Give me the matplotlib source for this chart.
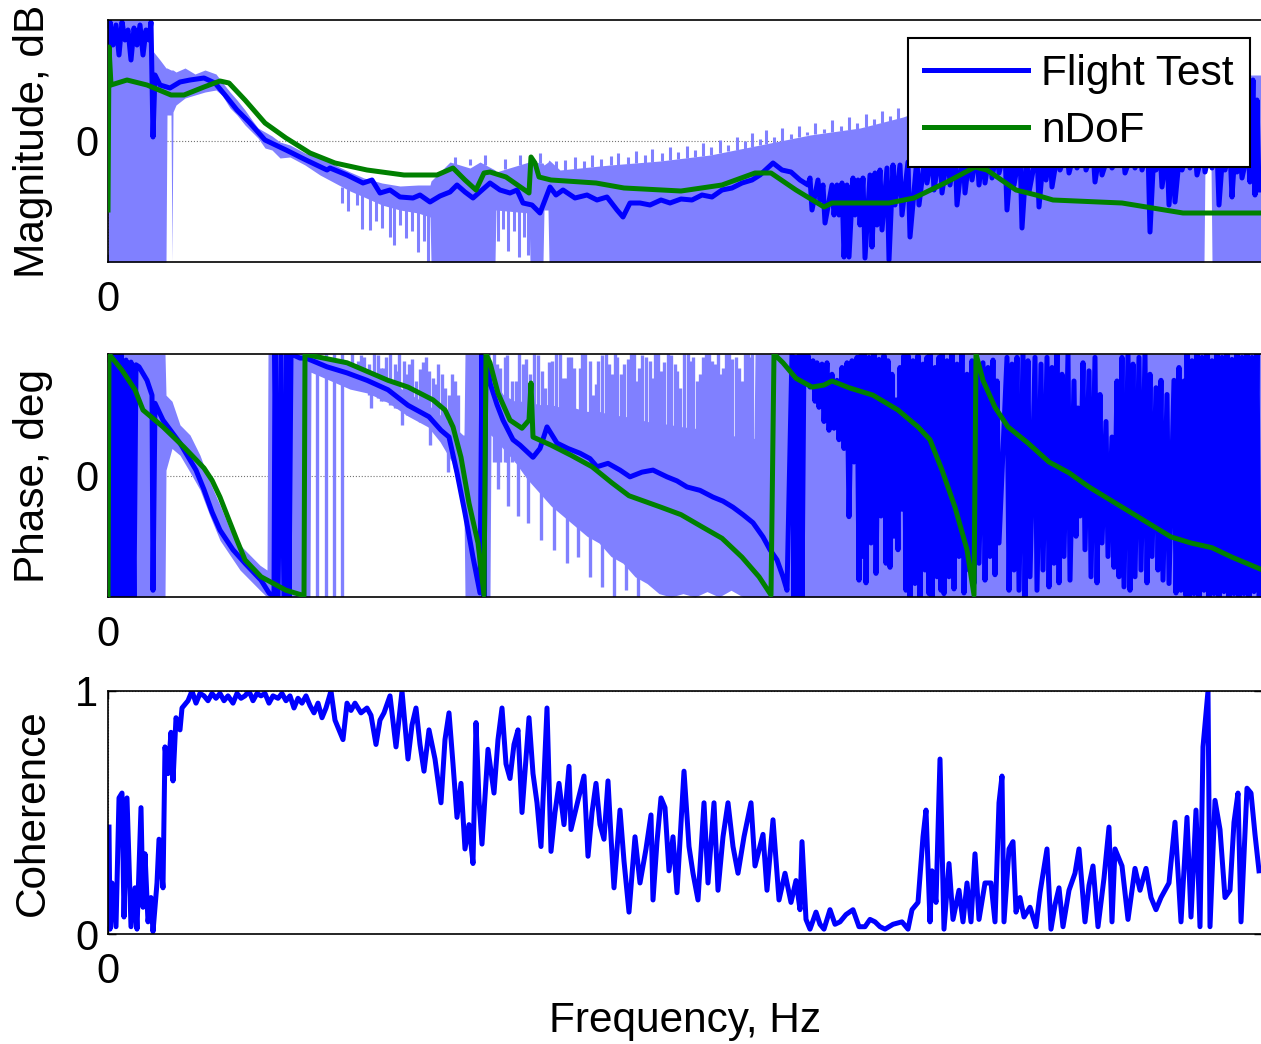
import numpy as np
import matplotlib
matplotlib.use("Agg")
import matplotlib.pyplot as plt

plt.rcParams['font.family'] = ['Liberation Sans', 'DejaVu Sans']
plt.rcParams['font.size'] = 30

LIGHT = '#8080FF'
BLUE = '#0000FF'
GREEN = '#008000'

# ---------------- magnitude, dB ----------------
# raw flight test spread: base band ...
mag_band_f = [0.0, 4.3, 4.4, 5.2, 5.8, 5.9, 6.3, 6.4, 6.5, 6.8, 7.7, 8.7, 9.7, 10.8, 11.4, 12.2,
              12.9, 13.7, 14.4, 15.0, 15.7, 16.4, 17.2, 18.2, 19.7, 21.2, 22.7, 24.2, 25.6, 27.4,
              29.2, 31.0, 32.2, 32.3, 34.2, 35.2, 36.2, 37.2, 38.7, 38.8, 42.1, 42.2, 43.5, 43.6,
              44.0, 44.1, 45.2, 50.2, 55.2, 60.2, 65.2, 70.2, 75.2, 79.5, 84.2, 94.2, 104.2,
              109.6, 109.7, 110.3, 110.4, 115.3]
mag_band_hi = [60.5, 60.5, 45.5, 40.5, 36.5, 36.5, 35.5, 35.5, 35.5, 34.5, 36.5, 33.5, 35.5, 33.5,
               29.5, 24.5, 20.5, 15.5, 10.5, 6.5, 4.5, 2.5, -0.5, -2, -6, -8.5, -12, -15.5, -18.5,
               -21, -22.5, -22, -22, -20, -10.5, -12, -13.5, -10.5, -14.5, -15.5, -10.5, -10.5,
               -11, -12, -10.5, -9.5, -14.5, -12, -10, -7, -2, 3, 6.5, 12, 20.5, 26.5, 31.5, 33,
               33, 33, 33, 33]
mag_band_lo = [-60.5, -60.5, -60.5, -60.5, -60.5, 13, 13, -60.5, 14.5, 18, 21.5, 23, 24.5, 25.5,
               23, 16.5, 13, 8, 4.5, 1.5, -3.5, -4.5, -8.5, -8, -12, -17, -21, -25, -28, -32,
               -34.5, -36, -38, -60.5, -60.5, -60.5, -60.5, -60.5, -60.5, -34.5, -36, -60.5,
               -60.5, -34.5, -34.5, -60.5, -60.5, -60.5, -60.5, -60.5, -60.5, -60.5, -60.5, -60.5,
               -60.5, -60.5, -60.5, -60.5, -11, -11, -60.5, -60.5]
# ... and its single spikes
mag_spk_f = [23.4, 24.0, 24.9, 25.4, 26.2, 26.8, 27.4, 28.2, 28.6, 29.2, 29.8, 30.4, 31.0, 31.6,
             32.0, 39.0, 39.5, 40.0, 40.6, 41.1, 41.6, 42.0, 34.7, 36.2, 37.7, 39.7, 41.2, 43.2,
             44.8, 45.7, 46.7, 47.6, 48.4, 49.3, 50.3, 51.0, 52.0, 52.8, 53.7, 54.4, 55.4, 56.2,
             57.0, 57.9, 58.7, 59.5, 60.3, 61.2, 62.0, 62.9, 63.7, 64.4, 65.2, 65.8, 66.6, 67.4,
             68.3, 69.1, 69.9, 70.7, 71.6, 72.4, 73.3, 74.1, 74.9, 75.8, 76.6, 77.4, 78.2, 79.0]
mag_spk_lo = [-31, -35, -32, -44, -44.5, -40, -43.5, -48, -52, -42, -48.5, -45, -55.5, -50, -60.5,
              -50, -44, -55, -45, -58, -48, -57, -12, -12, -12, -14, -12, -11, -14, -15, -14,
              -14, -13, -13, -12, -12, -11.5, -11, -11, -10.5, -10, -9.5, -9, -8.5, -8, -7.5, -7,
              -6, -5, -4.5, -4, -3, -2, -1.5, -1, 0, 1, 2, 3, 3.5, 4, 4.5, 5, 5.5, 6, 7, 8, 9,
              10, 11]
mag_spk_hi = [-23, -24, -24, -27, -27, -30, -30, -32, -32, -33, -33, -34, -34, -34, -35, -34, -34,
              -34, -34, -34, -34, -34, -8, -9, -7, -9, -7, -6, -10, -9.5, -8, -10, -7, -9, -7.5,
              -6, -8, -5, -7, -4, -6, -3, -5.5, -2.5, -4.5, -1, -3, 0.5, -2, 2, 0, 4, 1, 5.5, 2,
              6.5, 3.5, 7.5, 4.5, 9, 6, 10.5, 7.5, 12, 9, 13.5, 11, 15, 12.5, 16.5]

# smoothed flight test, low frequency part
mag_ft_f = [0.0, 0.2, 0.5, 0.8, 1.1, 1.4, 1.7, 2.0, 2.3, 2.6, 2.9, 3.2, 3.5, 3.8, 4.1, 4.3, 4.5,
            4.7, 5.2, 6.2, 7.2, 8.2, 9.6, 10.7, 11.7, 12.9, 14.1, 15.7, 17.8, 19.8, 21.9, 22.2,
            23.9, 25.5, 26.4, 27.2, 28.2, 29.2, 30.5, 31.2, 32.2, 33.2, 34.2, 34.9, 35.7, 36.5,
            37.4, 38.2, 39.2, 40.2, 40.9, 41.5, 42.4, 43.2, 44.2, 44.8, 45.5, 46.7, 47.9, 48.9,
            49.9, 50.9, 51.5, 52.2, 53.2, 54.2, 55.3, 56.2, 57.3, 58.4, 59.4, 60.4, 61.4, 62.4,
            63.4, 64.4, 65.2, 66.5, 67.4, 68.3, 69.2, 70.0]
mag_ft_db = [40.5, 59.5, 48, 58, 43, 59.5, 50.5, 55.5, 40.5, 56.5, 48, 58, 43, 55.5, 50.5, 59.5,
             2, 33, 28, 26.5, 29.5, 30.5, 31.5, 29, 23, 15.5, 9.5, 0.5, -4.5, -9.5, -14.5, -13.5,
             -17, -21, -19.5, -26, -24.5, -28, -28.5, -27, -30.5, -27.5, -25.5, -22, -25.5,
             -28.5, -24.5, -21, -24.5, -26, -24.5, -31, -32, -36, -23, -27, -24.5, -28.5, -27,
             -29.5, -28, -34.5, -38, -31, -31, -32, -29.5, -31, -29, -29.5, -27, -28, -24.5,
             -23.5, -21, -19.5, -17, -11, -14.5, -15.5, -19.5, -22]
# smoothed flight test, noisy high frequency part (per column: top / bottom)
mag_col_f = [70.2, 71.0, 71.5, 72.4, 72.9, 73.4, 73.9, 74.5, 75.0, 75.5, 76.2, 76.7, 77.2, 77.9,
             78.5, 79.2, 80.0, 80.9, 81.7, 82.4, 83.2, 84.0, 84.7, 85.5, 86.2, 86.9, 87.5, 88.2,
             88.9, 89.7, 90.4, 91.2, 91.9, 92.9, 93.6, 94.2, 95.0, 95.9, 96.7, 97.6, 98.5, 99.2,
             100.2, 101.5, 102.5, 103.2, 104.0, 104.6, 105.2, 105.9, 106.5, 107.2, 108.0, 108.7,
             109.5, 110.2, 110.9, 111.5, 112.2, 112.7, 113.2, 114.0, 114.5, 114.9]
mag_col_top = [-18.5, -19.5, -22, -22, -22, -21, -22, -18.5, -19.5, -18.5, -17, -16, -14.5,
               -13.5, -12, -12, -10.5, -8.5, -7, -5.5, -4.5, -4.5, -4.5, -4.5, -4.5, -4.5, -4.5,
               -4.5, -4.5, -4.5, -4.5, -4.5, -4.5, -4.5, -4.5, -4.5, -4.5, -4.5, -4.5, -4.5,
               -4.5, -4.5, -4.5, -4.5, -4.5, -4.5, -4.5, -4.5, -4.5, -4.5, -4.5, -4.5, -4.5,
               -4.5, -4.5, -4.5, -4.5, -4.5, -4.5, -4.5, -4.5, -4.5, 30.5, 20.5]
mag_col_bot = [-34.5, -29.5, -41, -37, -37, -58, -58, -37, -42, -58.5, -53, -42, -44.5, -59.5,
               -32, -37, -48, -32, -21, -24.5, -26, -22, -32, -26, -19.5, -22, -21, -18.5, -16,
               -34.5, -22, -43.5, -25.5, -33, -19.5, -23, -14.5, -16, -13.5, -14.5, -20.5, -17,
               -13.5, -16, -13.5, -14.5, -45.5, -14.5, -23, -32, -30.5, -14.5, -13.5, -17, -15.5,
               -13.5, -32, -14.5, -28, -15.5, -18.5, -20.5, -27, -24.5]

# nDoF model
mag_nd_f = [0, 0.1, 0.3, 1.9, 3.9, 6.3, 7.6, 9.6, 11.2, 12.1, 13.7, 15.7, 17.8, 20.2, 22.7, 25.9,
            29.6, 32.9, 34.5, 35.7, 36.8, 37.6, 38.2, 39.8, 42.1, 42.3, 42.7, 43.1, 44.3, 48.8,
            51.6, 57.3, 61.4, 64.7, 66.3, 68.8, 71.6, 72.4, 78.1, 80.6, 83.9, 86.7, 87.9, 90.8,
            92.8, 94.5, 101.4, 107.5, 115.3]
mag_nd_db = [-34.5, 47, 28, 30.5, 28, 23, 23, 27, 30, 29, 20.5, 9, 1.5, -6, -11, -14.5, -17, -17,
             -13.5, -19.5, -24.5, -16, -15.5, -18, -26, -8, -11, -18, -19.5, -21, -23.5, -25,
             -22, -16, -16, -24.5, -33, -31, -31, -28.5, -20.5, -13, -14.5, -24.5, -27, -29.5,
             -31, -36, -36]

# ---------------- phase, deg ----------------
ph_band_f = [0.0, 5.7, 5.8, 6.4, 7.2, 8.2, 9.2, 10.2, 11.2, 12.2, 13.2, 14.2, 15.2, 15.9, 16.0,
             20.2, 20.3, 24.2, 26.0, 28.0, 30.0, 32.0, 33.2, 34.4, 35.5, 35.6, 35.7, 38.2, 38.3,
             39.5, 40.7, 41.9, 43.1, 44.3, 45.5, 46.7, 47.9, 49.1, 50.3, 51.5, 52.7, 53.9, 55.1,
             56.3, 57.5, 58.7, 59.9, 61.1, 62.3, 63.5, 64.6, 64.7, 115.3]
ph_band_hi = [180, 180, 119, 110, 75, 60, 30, -10, -44, -80, -103, -118, -133, -140, 180,
              180, 180, 165, 155, 142, 122, 105, 90, 75, 60, 60, 180, 180, 150,
              120, 110, 110, 105, 105, 100, 100, 95, 95, 90, 88, 85, 80, 78,
              75, 72, 70, 65, 62, 60, 55, 55, 180, 180]
ph_band_lo = [-180, -180, 8, 40, 30, 5, -21, -60, -96, -118, -140, -155, -170, -180, -180,
              -180, 153, 128, 122, 108, 88, 72, 50, 20, -50, -50, -180, -180, 60,
              40, 20, -5, -25, -45, -60, -75, -90, -100, -120, -130, -150, -160, -175,
              -180, -175, -180, -172, -180, -170, -180, -180, -180, -180]
ph_spk_f = [20.9, 21.8, 22.6, 23.4,
            24.4, 25.0, 25.3, 26.1, 26.6, 27.3, 27.8, 28.7, 29.1, 29.9, 30.4, 31.2, 31.8, 32.5,
            33.0, 33.7, 34.4, 35.0, 26.3, 29.4, 32.2, 34.0,
            24.7, 25.6, 26.4, 27.0, 27.5, 28.2, 28.9, 29.6, 30.1, 30.8, 31.5, 32.1, 32.8, 33.4,
            34.1, 34.7,
            38.6, 39.2, 39.7, 40.4, 41.1, 41.5, 42.2, 43.0, 43.7, 44.4, 45.2, 45.8, 46.3, 47.2,
            47.7, 48.5, 49.0, 49.8, 50.4, 50.9, 51.6, 52.3, 52.8, 53.4, 54.2, 54.7, 55.3, 56.0,
            56.7, 57.2, 58.0, 58.5, 59.2, 59.8, 60.4, 61.0, 61.5, 62.1, 62.8, 63.4, 64.0, 64.4,
            38.9, 39.9, 40.8, 41.8, 42.6, 43.4, 44.1, 44.8, 45.5, 46.0, 46.6, 47.4, 48.2, 48.8,
            49.4, 50.1, 50.7, 51.3, 52.0, 52.6, 53.1, 53.8, 54.5, 55.0, 55.6, 56.3, 56.9, 57.6,
            58.3, 58.9, 59.5, 60.1, 60.7, 61.3, 61.8, 62.4, 63.1, 63.7, 64.2,
            39.0, 40.0, 41.0, 42.0, 43.3, 44.6, 45.9, 47.0, 48.2, 49.4, 50.6, 51.8, 53.0]
ph_spk_lo = [-180, -180, -180, -180,
             130, 130, 130, 120, 120, 110, 110, 100, 100, 90, 90, 80, 80, 70,
             70, 60, 50, 40, 100, 75, 45, 5,
             130, 125, 120, 115, 110, 105, 100, 95, 90, 85, 80, 75, 70, 65,
             50, 40,
             20, 20, 20, 20, 20, 20, 20, 20, 20, 20, 20, 20, 20, 20,
             20, 20, 20, 20, 20, 20, 20, 20, 20, 20, 20, 20, 20, 20,
             20, 20, 20, 20, 20, 20, 20, 20, 20, 20, 20, 20, 20, 20,
             20, 20, 20, 20, 20, 20, 20, 20, 20, 20, 20, 20, 20, 20,
             20, 20, 20, 20, 20, 20, 20, 20, 20, 20, 20, 20, 20, 20,
             20, 20, 20, 20, 20, 20, 20, 20, 20, 20, 20,
             -20, -45, -60, -70, -95, -110, -130, -120, -150, -165, -180, -170, -180]
ph_spk_hi = [180, 180, 180, 180,
             180, 170, 178, 165, 180, 160, 175, 165, 180, 150, 172, 158, 176, 145,
             165, 130, 150, 120, 125, 100, 75, 40,
             165, 175, 150, 178, 160, 180, 155, 170, 165, 140, 168, 155, 135, 150,
             120, 140,
             180, 160, 175, 140, 180, 165, 150, 178, 130, 170, 180, 145, 175, 160,
             180, 120, 170, 180, 150, 175, 165, 180, 140, 178, 170, 180, 155, 180,
             165, 130, 180, 175, 150, 180, 170, 180, 160, 180, 175, 140, 180, 180,
             165, 178, 140, 172, 180, 155, 168, 180, 145, 175, 160, 180, 170, 135,
             178, 165, 180, 150, 172, 180, 160, 175, 145, 180, 168, 178, 155, 180,
             170, 140, 176, 180, 165, 150, 180, 172, 160, 180, 175,
             50, 35, 20, 0, -25, -45, -60, -75, -90, -100, -120, -130, -150]

ph_ft_f = [0.0, 0.1, 0.3, 0.5, 0.7, 0.9, 1.1, 1.3, 1.6, 1.8, 2.1, 2.3, 2.6, 2.8, 3.1, 3.9, 4.4, 4.5,
           4.7, 5.5, 7.2, 8.8, 9.6, 10.4, 11.2, 12.5, 13.7, 15.3, 16.1, 16.6, 16.7, 17.0, 17.3,
           17.6, 17.9, 18.1, 18.3, 19.2, 19.8, 21.9, 23.9, 25.9, 28.0, 30.0, 32.1, 33.3, 34.1,
           34.9, 35.7, 36.5, 37.2, 37.4, 37.6, 37.8, 38.2, 38.9, 39.5, 40.5, 41.2, 42.5, 43.2,
           43.9, 44.4, 44.9, 46.0, 47.2, 48.2, 48.9, 50.0, 51.2, 52.2, 53.4, 54.5, 55.9, 56.9,
           57.9, 59.2, 60.5, 61.5, 62.5, 63.5, 64.5, 65.5, 66.2, 66.9, 67.5, 67.9]
ph_ft_deg = [-180, 180, -180, 180, -180, 180, -180, 180, -180, 171, -180, 168, -180, 164, 161, 141,
             119, -170, 107, 82, 48, 8, -21, -54, -81, -110, -130, -155, -174, -180, 180, -180,
             180, -180, 180, -180, 180, 174, 174, 161, 152, 141, 127, 104, 87, 67, 57, 4, -56,
             -121, -174, 180, -180, 180, 137, 105, 82, 53, 45, 27, 40, 72, 60, 48, 40, 33, 25,
             13, 18, 8, -2, 5, 8, -2, -8, -17, -22, -32, -38, -47, -58, -70, -91, -110, -125,
             -150, -170]
ph_col_f = [68.4, 68.8, 69.2, 69.6, 70.0, 70.5, 70.9, 71.4, 71.9, 72.4, 72.9, 73.4, 73.9, 74.4,
            74.9, 75.3, 75.6, 76.1, 76.6, 77.1, 77.6, 78.0, 78.4, 78.8, 79.2, 79.6, 80.0, 80.5,
            81.0, 81.5, 81.9, 82.2, 82.7, 83.1, 83.4, 83.9, 84.4, 84.9, 85.4, 85.9, 86.4, 86.9,
            87.5, 88.0, 88.5, 88.9, 89.9, 90.4, 90.9, 91.5, 92.0, 92.7, 93.3, 93.9, 94.4, 94.9,
            95.4, 96.0, 96.6, 97.0, 97.5, 98.1, 98.7, 99.2, 99.8, 100.4, 100.9, 101.4, 102.0,
            102.5, 103.1, 103.7, 104.2, 104.8, 105.3, 105.9, 106.6, 107.1, 107.6, 107.9, 108.4,
            108.9, 109.4, 109.9, 110.4, 110.9, 111.4, 111.9, 112.4, 112.9, 113.4, 113.9, 114.4,
            114.9]
ph_col_top = [180, 175, 180, 180, 178, 170, 167, 165, 167, 150, 141, 160, 167, 170, 175, 178, 180,
              175, 180, 172, 178, 170, 150, 112, 160, 178, 178, 170, 178, 165, 175, 180, 160, 175,
              180, 170, 180, 165, 180, 150, 170, 155, 167, 160, 171, 140, 175, 165, 175, 180, 170,
              175, 165, 175, 160, 180, 150, 180, 140, 100, 167, 155, 175, 120, 80, 57, 140, 175,
              180, 165, 175, 180, 150, 130, 141, 120, 141, 160, 140, 180, 170, 180, 175, 180, 170,
              180, 175, 180, 172, 180, 175, 180, 175, 180]
ph_col_bot = [-180, -178, -180, 140, 131, 110, 101, 80, 67, 70, 53, 40, -61, 20, -155, -120, -159,
              -100, -145, -60, -130, -136, -90, -110, -50, -170, -180, -160, -180, -140, -175,
              -180, -150, -170, -175, -150, -168, -120, -174, -140, -160, -130, -155, -120, -147,
              -100, -170, -140, -170, -180, -150, -170, -140, -165, -130, -159, -120, -155, -90,
              -60, -110, -150, -159, -100, -120, -136, -150, -165, -170, -150, -140, -159, -120,
              -140, -155, -160, -174, -170, -178, -180, -175, -180, -170, -180, -175, -180, -172,
              -180, -175, -180, -175, -180, -172, -180]

ph_nd_f = [0, 0.1, 1.4, 2.7, 3.5, 5.5, 7.6, 9.6, 10.4, 11.2, 12.1, 12.9, 13.7, 15.3, 17.8, 19.6,
           19.7, 20.2, 23.9, 28.0, 30.0, 32.5, 33.7, 34.5, 35.3, 36.1, 37.0, 37.6, 37.8, 38.2,
           39.0, 40.2, 41.4, 42.1, 42.3, 42.5, 44.3, 46.3, 48.4, 50.4, 52.1, 55.3, 57.3, 59.4,
           61.4, 63.4, 65.1, 66.3, 66.6, 67.5, 68.8, 70.4, 71.6, 72.4, 74.1, 76.5, 79.0, 81.0,
           82.2, 83.4, 84.7, 85.9, 86.6, 86.8, 87.5, 88.7, 90.0, 92.0, 94.1, 96.1, 98.1, 100.2,
           102.2, 104.3, 106.3, 108.3, 110.4, 112.4, 115.3]
ph_nd_deg = [-180, 180, 156, 127, 97, 72, 42, 11, -7, -32, -66, -96, -125, -150, -170, -178, 180,
             178, 167, 141, 131, 112, 97, 72, 27, -41, -100, -177, 180, 167, 122, 82, 70, 82, 137,
             57, 45, 30, 13, -11, -30, -47, -58, -76, -93, -121, -150, -177, 180, 167, 144, 131,
             134, 140, 130, 119, 97, 72, 53, 8, -47, -110, -177, 180, 141, 101, 72, 48, 20, 4,
             -17, -36, -54, -73, -91, -100, -107, -121, -139]

# ---------------- coherence ----------------
coh_f = [0.1, 0.2, 0.4, 0.8, 1.1, 1.4, 1.6, 1.9, 2.3, 2.7,
         2.9, 3.3, 3.5, 3.7, 4.0, 4.3, 4.5, 4.9, 5.1, 5.5,
         5.7, 6.0, 6.3, 6.5, 6.8, 7.2, 7.4, 8.0, 8.4, 8.8,
         9.2, 9.6, 10.0, 10.4, 10.8, 11.2, 11.6, 12.0, 12.5, 12.9,
         13.3, 13.7, 14.1, 14.5, 14.9, 15.3, 15.7, 16.1, 16.5, 17.0,
         17.4, 17.8, 18.2, 18.6, 19.0, 19.4, 19.8, 20.2, 20.6, 21.0,
         21.4, 21.8, 22.3, 22.7, 23.5, 23.9, 24.3, 24.7, 25.3, 25.9,
         26.3, 26.8, 27.2, 27.6, 28.2, 28.8, 29.4, 30.0, 30.4, 30.8,
         31.2, 31.6, 32.1, 32.7, 33.3, 33.7, 34.1, 34.5, 34.9, 35.3,
         35.7, 36.1, 36.5, 36.8, 37.1, 37.4, 38.0, 38.6, 39.0, 39.4,
         39.8, 40.2, 40.6, 41.0, 41.4, 42.1, 42.5, 42.9, 43.3, 43.9,
         44.3, 44.7, 45.1, 45.6, 46.1, 46.3, 47.0, 47.6, 48.0, 48.4,
         48.8, 49.2, 49.6, 50.0, 50.3, 50.6, 51.2, 51.6, 52.1, 52.7,
         53.2, 53.8, 54.3, 54.5, 54.9, 55.3, 55.7, 56.1, 56.5, 56.9,
         57.6, 58.1, 58.5, 59.0, 59.6, 60.0, 60.6, 61.0, 61.5, 62.0,
         62.5, 63.0, 63.6, 64.3, 64.7, 65.5, 65.9, 66.5, 67.1, 67.7,
         68.3, 68.8, 69.2, 69.4, 69.8, 70.2, 70.8, 71.2, 71.6, 72.2,
         72.7, 73.2, 73.8, 74.5, 75.1, 75.7, 76.2, 76.7, 77.2, 77.7,
         78.5, 79.4, 80.0, 80.4, 81.0, 81.5, 81.8, 82.2, 82.4, 82.8,
         83.2, 83.6, 84.1, 84.5, 85.1, 85.5, 85.9, 86.3, 86.7, 87.1,
         87.7, 88.3, 88.7, 89.1, 89.4, 89.6, 90.1, 90.5, 90.8, 91.2,
         91.6, 92.2, 92.8, 93.2, 93.9, 94.3, 94.7, 95.1, 95.5, 96.1,
         96.7, 97.1, 97.7, 98.1, 98.5, 99.0, 99.6, 100.1, 100.4, 100.7,
         101.4, 102.0, 102.7, 103.2, 103.8, 104.3, 104.8, 105.3, 106.1, 106.7,
         107.3, 107.9, 108.3, 108.8, 109.2, 109.5, 110.0, 110.2, 110.7, 111.2,
         111.7, 112.2, 112.6, 113.0, 113.3, 113.9, 114.3, 114.7, 115.1]
coh_val = [0.44, 0.02, 0.21, 0.03, 0.56, 0.58, 0.07, 0.56, 0.03, 0.19,
           0.02, 0.52, 0.11, 0.33, 0.05, 0.15, 0.01, 0.21, 0.39, 0.19,
           0.77, 0.66, 0.83, 0.63, 0.89, 0.84, 0.93, 0.96, 1.0, 0.95,
           0.99, 0.98, 0.96, 0.99, 0.97, 0.99, 0.96, 0.98, 0.95, 0.99,
           0.97, 0.98, 1.0, 0.96, 0.99, 0.98, 0.99, 0.95, 0.98, 0.97,
           0.99, 0.96, 0.98, 0.93, 0.97, 0.95, 0.98, 0.94, 0.91, 0.95,
           0.89, 0.93, 1.0, 0.88, 0.80, 0.95, 0.92, 0.95, 0.91, 0.93,
           0.90, 0.78, 0.88, 0.91, 0.98, 0.77, 1.0, 0.72, 0.86, 0.93,
           0.78, 0.67, 0.84, 0.72, 0.54, 0.80, 0.91, 0.70, 0.48, 0.62,
           0.35, 0.45, 0.29, 0.87, 0.55, 0.37, 0.76, 0.58, 0.80, 0.93,
           0.70, 0.64, 0.78, 0.84, 0.50, 0.89, 0.66, 0.54, 0.36, 0.93,
           0.34, 0.50, 0.62, 0.45, 0.69, 0.43, 0.55, 0.65, 0.32, 0.50,
           0.62, 0.45, 0.39, 0.63, 0.40, 0.19, 0.51, 0.30, 0.09, 0.40,
           0.21, 0.35, 0.49, 0.14, 0.38, 0.56, 0.52, 0.26, 0.40, 0.17,
           0.67, 0.36, 0.25, 0.14, 0.54, 0.21, 0.54, 0.18, 0.40, 0.54,
           0.36, 0.25, 0.40, 0.54, 0.28, 0.41, 0.18, 0.47, 0.14, 0.25,
           0.13, 0.22, 0.10, 0.38, 0.06, 0.02, 0.09, 0.04, 0.02, 0.10,
           0.04, 0.05, 0.08, 0.10, 0.03, 0.03, 0.06, 0.05, 0.03, 0.02,
           0.04, 0.05, 0.02, 0.10, 0.13, 0.40, 0.51, 0.05, 0.26, 0.13,
           0.72, 0.02, 0.29, 0.06, 0.18, 0.05, 0.21, 0.05, 0.33, 0.06,
           0.21, 0.21, 0.05, 0.54, 0.65, 0.05, 0.35, 0.38, 0.09, 0.15,
           0.07, 0.11, 0.03, 0.17, 0.35, 0.02, 0.12, 0.19, 0.03, 0.18,
           0.25, 0.35, 0.05, 0.20, 0.28, 0.03, 0.23, 0.44, 0.05, 0.35,
           0.28, 0.06, 0.27, 0.18, 0.27, 0.15, 0.10, 0.15, 0.21, 0.46,
           0.05, 0.48, 0.07, 0.51, 0.03, 0.77, 1.0, 0.03, 0.55, 0.43,
           0.15, 0.18, 0.46, 0.58, 0.05, 0.60, 0.58, 0.41, 0.26]


def zigzag(f, top, bot, dx=0.2):
    # draw each noisy column as top -> bottom stroke
    xs = np.column_stack([f, np.asarray(f) + dx]).ravel()
    ys = np.column_stack([top, bot]).ravel()
    return xs, ys


fig = plt.figure(figsize=(12.61, 10.44), dpi=100)
W = 1153.5 / 1261
ax1 = fig.add_axes([108 / 1261, 1 - 262 / 1044, W, 242 / 1044])
ax2 = fig.add_axes([108 / 1261, 1 - 597 / 1044, W, 243 / 1044])
ax3 = fig.add_axes([108 / 1261, 1 - 934 / 1044, W, 243 / 1044])
XMAX = 115.35

# magnitude
ax1.fill_between(mag_band_f, mag_band_lo, mag_band_hi, color=LIGHT, lw=0, zorder=1)
ax1.vlines(mag_spk_f, mag_spk_lo, mag_spk_hi, color=LIGHT, lw=2.2, zorder=1)
zx, zy = zigzag(mag_col_f, mag_col_top, mag_col_bot)
h_ft, = ax1.plot(np.concatenate([mag_ft_f, zx]), np.concatenate([mag_ft_db, zy]),
                 color=BLUE, lw=3.6, zorder=2)
h_nd, = ax1.plot(mag_nd_f, mag_nd_db, color=GREEN, lw=3.6, zorder=3)
ax1.set_ylim(-60.5, 60.5)
ax1.set_yticks([0])
ax1.set_ylabel('Magnitude, dB', fontsize=30.5)
leg = ax1.legend([h_ft, h_nd], ['Flight Test', 'nDoF'], loc='upper right',
                 bbox_to_anchor=(0.990, 0.926), borderaxespad=0, fancybox=False,
                 framealpha=1, edgecolor='black', handlelength=2.45, handletextpad=0.31,
                 borderpad=0.38, labelspacing=0.4, fontsize=30.5)
leg.get_frame().set_linewidth(1.5)
leg.set_zorder(10)

# phase
ax2.fill_between(ph_band_f, ph_band_lo, ph_band_hi, color=LIGHT, lw=0, zorder=1)
ax2.vlines(ph_spk_f, ph_spk_lo, ph_spk_hi, color=LIGHT, lw=2.4, zorder=1)
zx, zy = zigzag(ph_col_f, ph_col_top, ph_col_bot)
ax2.plot(np.concatenate([ph_ft_f, zx]), np.concatenate([ph_ft_deg, zy]),
         color=BLUE, lw=3.6, zorder=2)
ax2.plot(ph_nd_f, ph_nd_deg, color=GREEN, lw=3.6, zorder=3)
ax2.set_ylim(-180, 180)
ax2.set_yticks([0])
ax2.set_ylabel('Phase, deg', fontsize=30.5)

# coherence
ax3.plot(coh_f, coh_val, color=BLUE, lw=3.6, zorder=2)
ax3.set_ylim(0, 1)
ax3.set_yticks([0, 1])
ax3.set_ylabel('Coherence', fontsize=30.5)
ax3.set_xlabel('Frequency, Hz', fontsize=30.5)
ax3.xaxis.set_label_coords(0.5, -0.358)
ax3.xaxis.label.set_va('center')

for ax in (ax1, ax2, ax3):
    ax.set_xlim(0, XMAX)
    ax.set_xticks([0])
    ax.grid(True, linestyle=':', color='0.45', lw=0.8, zorder=0)
    ax.set_axisbelow(True)
    ax.tick_params(direction='in', length=6, width=1, right=True, top=True)
    ax.tick_params(axis='x', pad=13)
    ax.tick_params(axis='y', pad=7)
    ax.spines['right'].set_visible(False)
    for s in ('left', 'top', 'bottom'):
        ax.spines[s].set_linewidth(1.2)
    ax.yaxis.set_label_coords(-0.065, 0.5)
    ax.yaxis.label.set_va('center')

fig.savefig('out.png', dpi=100)
